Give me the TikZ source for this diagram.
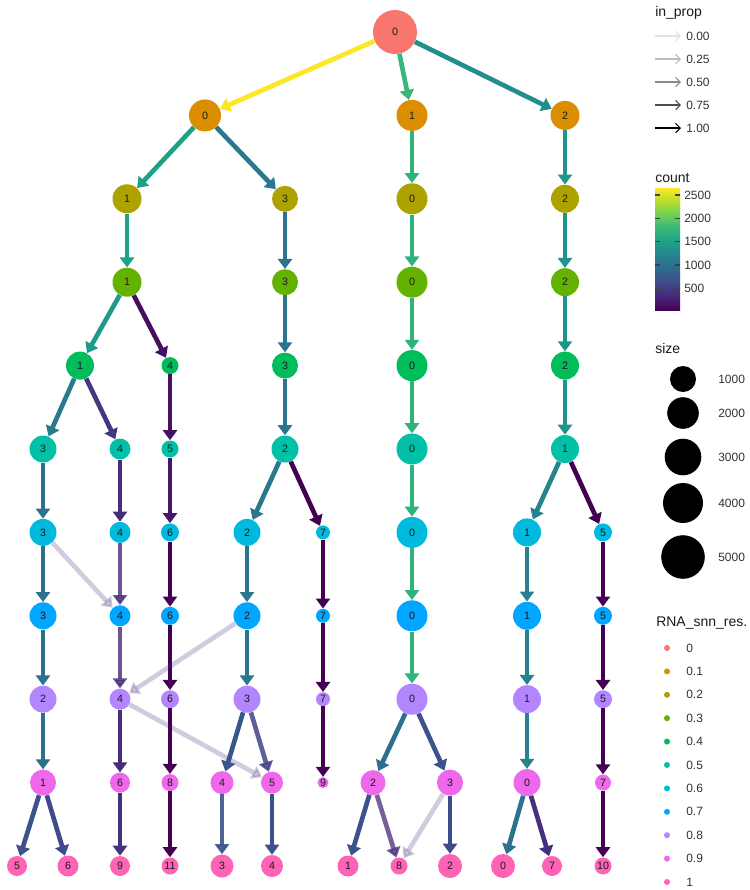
\documentclass[tikz,border=0pt]{standalone}
\usepackage{fontspec}
\setmainfont{Liberation Sans}
\usetikzlibrary{arrows.meta}
\definecolor{c0}{HTML}{F8766D}
\definecolor{c1}{HTML}{DB8E00}
\definecolor{c2}{HTML}{AEA200}
\definecolor{c3}{HTML}{64B200}
\definecolor{c4}{HTML}{00BD5C}
\definecolor{c5}{HTML}{00C1A7}
\definecolor{c6}{HTML}{00BADE}
\definecolor{c7}{HTML}{00A6FF}
\definecolor{c8}{HTML}{B385FF}
\definecolor{c9}{HTML}{EF67EB}
\definecolor{c10}{HTML}{FF63B6}
\definecolor{v0}{HTML}{440154}
\definecolor{v1}{HTML}{482878}
\definecolor{v2}{HTML}{3E4A89}
\definecolor{v3}{HTML}{31688E}
\definecolor{v4}{HTML}{26828E}
\definecolor{v5}{HTML}{1F9E89}
\definecolor{v6}{HTML}{35B779}
\definecolor{v7}{HTML}{6DCD59}
\definecolor{v8}{HTML}{B4DE2C}
\definecolor{v9}{HTML}{FDE725}
\definecolor{ttlc}{HTML}{1A1A1A}
\definecolor{labc}{HTML}{333333}
\pgfdeclareverticalshading{viridis}{100bp}{color(0bp)=(v0); color(25bp)=(v0); color(30.556bp)=(v1); color(36.111bp)=(v2); color(41.667bp)=(v3); color(47.222bp)=(v4); color(52.778bp)=(v5); color(58.333bp)=(v6); color(63.889bp)=(v7); color(69.444bp)=(v8); color(75bp)=(v9); color(100bp)=(v9)}
\newcommand\ND[6]{\node[nd,fill=#5,minimum size=#4*1.5pt] (#1) at (#2,{32+83.4*#3}) {#6};}
\newcommand\ED[4]{\definecolor{tmpc}{HTML}{#3}\draw[ed,draw=tmpc,opacity=#4] (#1) -- (#2);}
\begin{document}
\begin{tikzpicture}[x=0.75pt,y=-0.75pt,
  nd/.style={circle,inner sep=0pt,draw=none,font=\fontsize{8}{9}\selectfont,text=ttlc},
  ed/.style={line width=3.5pt,-{Triangle[length=7.5pt,width=10.5pt]}},
  ttl/.style={anchor=west,inner sep=0pt,font=\fontsize{10.5}{12}\selectfont,text=ttlc},
  lab/.style={anchor=west,inner sep=0pt,font=\fontsize{9}{10}\selectfont,text=labc},
  legarrow/.style={line width=0.8pt,-{Straight Barb[length=3.5pt,width=7pt]}}]
\fill[white] (0,0) rectangle (750,890);
\useasboundingbox (0,0) rectangle (750,890);
% nodes
\ND{n0_0}{395}{0}{22}{c0}{0}
\ND{n1_0}{205}{1}{16}{c1}{0}
\ND{n1_1}{412}{1}{15.5}{c1}{1}
\ND{n1_2}{565}{1}{14.5}{c1}{2}
\ND{n2_1}{127}{2}{14.5}{c2}{1}
\ND{n2_3}{285}{2}{13}{c2}{3}
\ND{n2_0}{412}{2}{15.5}{c2}{0}
\ND{n2_2}{565}{2}{14}{c2}{2}
\ND{n3_1}{127}{3}{14.5}{c3}{1}
\ND{n3_3}{285}{3}{13}{c3}{3}
\ND{n3_0}{412}{3}{15.5}{c3}{0}
\ND{n3_2}{565}{3}{14}{c3}{2}
\ND{n4_1}{80}{4}{14}{c4}{1}
\ND{n4_4}{170}{4}{8.5}{c4}{4}
\ND{n4_3}{285}{4}{13}{c4}{3}
\ND{n4_0}{412}{4}{15.5}{c4}{0}
\ND{n4_2}{565}{4}{14}{c4}{2}
\ND{n5_3}{43}{5}{13.5}{c5}{3}
\ND{n5_4}{120}{5}{10.5}{c5}{4}
\ND{n5_5}{170}{5}{8.5}{c5}{5}
\ND{n5_2}{285}{5}{13.5}{c5}{2}
\ND{n5_0}{412}{5}{15.5}{c5}{0}
\ND{n5_1}{565}{5}{14}{c5}{1}
\ND{n6_3}{43}{6}{13.5}{c6}{3}
\ND{n6_4}{120}{6}{10.5}{c6}{4}
\ND{n6_6}{170}{6}{9}{c6}{6}
\ND{n6_2}{247}{6}{13.5}{c6}{2}
\ND{n6_7}{323}{6}{7}{c6}{7}
\ND{n6_0}{412}{6}{15.5}{c6}{0}
\ND{n6_1}{527}{6}{14}{c6}{1}
\ND{n6_5}{603}{6}{9}{c6}{5}
\ND{n7_3}{43}{7}{13.5}{c7}{3}
\ND{n7_4}{120}{7}{10.5}{c7}{4}
\ND{n7_6}{170}{7}{9}{c7}{6}
\ND{n7_2}{247}{7}{13.5}{c7}{2}
\ND{n7_7}{323}{7}{7}{c7}{7}
\ND{n7_0}{412}{7}{15.5}{c7}{0}
\ND{n7_1}{527}{7}{14}{c7}{1}
\ND{n7_5}{603}{7}{9}{c7}{5}
\ND{n8_2}{43}{8}{13.5}{c8}{2}
\ND{n8_4}{120}{8}{10.5}{c8}{4}
\ND{n8_6}{170}{8}{9}{c8}{6}
\ND{n8_3}{247}{8}{13.5}{c8}{3}
\ND{n8_7}{323}{8}{7}{c8}{7}
\ND{n8_0}{412}{8}{15.5}{c8}{0}
\ND{n8_1}{527}{8}{14}{c8}{1}
\ND{n8_5}{603}{8}{9}{c8}{5}
\ND{n9_1}{43}{9}{13}{c9}{1}
\ND{n9_6}{120}{9}{10}{c9}{6}
\ND{n9_8}{170}{9}{8.5}{c9}{8}
\ND{n9_4}{222}{9}{11.5}{c9}{4}
\ND{n9_5}{272}{9}{11}{c9}{5}
\ND{n9_9}{323}{9}{5.5}{c9}{9}
\ND{n9_2}{373}{9}{12.5}{c9}{2}
\ND{n9_3}{450}{9}{13}{c9}{3}
\ND{n9_0}{527}{9}{13.5}{c9}{0}
\ND{n9_7}{603}{9}{8}{c9}{7}
\ND{n10_5}{17}{10}{10}{c10}{5}
\ND{n10_6}{68}{10}{10.5}{c10}{6}
\ND{n10_9}{120}{10}{10}{c10}{9}
\ND{n10_11}{170}{10}{8.5}{c10}{11}
\ND{n10_3}{222}{10}{11.5}{c10}{3}
\ND{n10_4}{272}{10}{11}{c10}{4}
\ND{n10_1}{348}{10}{10.5}{c10}{1}
\ND{n10_8}{399}{10}{8.5}{c10}{8}
\ND{n10_2}{450}{10}{12}{c10}{2}
\ND{n10_0}{503}{10}{12}{c10}{0}
\ND{n10_7}{552}{10}{10}{c10}{7}
\ND{n10_10}{603}{10}{8.5}{c10}{10}
% edges
\ED{n0_0}{n1_0}{FDE725}{1}
\ED{n0_0}{n1_1}{37B878}{1}
\ED{n0_0}{n1_2}{21908C}{1}
\ED{n1_0}{n2_1}{1FA187}{1}
\ED{n1_0}{n2_3}{2A788E}{1}
\ED{n1_1}{n2_0}{2EB37C}{1}
\ED{n1_2}{n2_2}{1F968B}{1}
\ED{n2_1}{n3_1}{1FA187}{1}
\ED{n2_3}{n3_3}{2C738E}{1}
\ED{n2_0}{n3_0}{2EB37C}{1}
\ED{n2_2}{n3_2}{1F968B}{1}
\ED{n3_1}{n4_1}{1F9A8A}{1}
\ED{n3_1}{n4_4}{470D60}{1}
\ED{n3_3}{n4_3}{2C738E}{1}
\ED{n3_0}{n4_0}{2EB37C}{1}
\ED{n3_2}{n4_2}{1F968B}{1}
\ED{n4_1}{n5_3}{297A8E}{1}
\ED{n4_1}{n5_4}{453781}{1}
\ED{n4_4}{n5_5}{471063}{1}
\ED{n4_3}{n5_2}{2C738E}{1}
\ED{n4_0}{n5_0}{2EB37C}{1}
\ED{n4_2}{n5_1}{1F968B}{1}
\ED{n5_3}{n6_3}{2C728E}{1}
\ED{n5_4}{n6_4}{472C7A}{1}
\ED{n5_5}{n6_6}{481668}{1}
\ED{n5_2}{n6_2}{2A778E}{1}
\ED{n5_2}{n6_7}{440154}{1}
\ED{n5_0}{n6_0}{2EB37C}{1}
\ED{n5_1}{n6_1}{26828E}{1}
\ED{n5_1}{n6_5}{440154}{1}
\ED{n6_3}{n7_3}{2C728E}{1}
\ED{n6_3}{n7_4}{46337E}{0.25}
\ED{n6_4}{n7_4}{472C7A}{0.8}
\ED{n6_6}{n7_6}{440154}{1}
\ED{n6_2}{n7_2}{2A778E}{1}
\ED{n6_7}{n7_7}{440154}{1}
\ED{n6_0}{n7_0}{2EB37C}{1}
\ED{n6_1}{n7_1}{26828E}{1}
\ED{n6_5}{n7_5}{440154}{1}
\ED{n7_3}{n8_2}{2C728E}{1}
\ED{n7_4}{n8_4}{472C7A}{0.8}
\ED{n7_6}{n8_6}{440154}{1}
\ED{n7_2}{n8_3}{2A778E}{1}
\ED{n7_2}{n8_4}{46337E}{0.25}
\ED{n7_7}{n8_7}{440154}{1}
\ED{n7_0}{n8_0}{2EB37C}{1}
\ED{n7_1}{n8_1}{26828E}{1}
\ED{n7_5}{n8_5}{440154}{1}
\ED{n8_2}{n9_1}{2C728E}{1}
\ED{n8_4}{n9_6}{472C7A}{1}
\ED{n8_4}{n9_5}{46337E}{0.25}
\ED{n8_6}{n9_8}{440154}{1}
\ED{n8_3}{n9_4}{39568C}{1}
\ED{n8_3}{n9_5}{414487}{0.85}
\ED{n8_7}{n9_9}{440154}{1}
\ED{n8_0}{n9_2}{2D708E}{1}
\ED{n8_0}{n9_3}{3B528B}{1}
\ED{n8_1}{n9_0}{26828E}{1}
\ED{n8_5}{n9_7}{440154}{1}
\ED{n9_1}{n10_5}{3B528B}{1}
\ED{n9_1}{n10_6}{3E4A89}{1}
\ED{n9_6}{n10_9}{46337E}{1}
\ED{n9_8}{n10_11}{440154}{1}
\ED{n9_4}{n10_3}{3B528B}{0.9}
\ED{n9_5}{n10_4}{3B528B}{1}
\ED{n9_2}{n10_1}{3B528B}{1}
\ED{n9_2}{n10_8}{472C7A}{0.75}
\ED{n9_3}{n10_8}{46337E}{0.25}
\ED{n9_3}{n10_2}{3E4C8A}{1}
\ED{n9_0}{n10_0}{2C728E}{1}
\ED{n9_0}{n10_7}{46307D}{1}
\ED{n9_7}{n10_10}{440154}{1}
% legend: in_prop
\node[ttl] (tin) at (655,13) {in\_prop};
\foreach \y/\c/\t in {36/E3E3E3/0.00, 59/BBBBBB/0.25, 82/8A8A8A/0.50, 105/4D4D4D/0.75, 128/000000/1.00}{
  \definecolor{tmpl}{HTML}{\c}
  \draw[legarrow,draw=tmpl] (655,\y) -- (681,\y);
  \node[lab] at (686,\y) {\t};
}
% legend: count
\node[ttl] (tcount) at (655,178) {count};
\shade[shading=viridis] (655,188) rectangle (680,310);
\foreach \y/\t in {195/2500, 218.3/2000, 241.6/1500, 264.9/1000, 288.2/500}{
  \draw[line width=1pt,black!75] (655,\y) -- (660,\y) (675,\y) -- (680,\y);
  \node[lab] at (684,\y) {\t};
}
% legend: size
\node[ttl] (tsize) at (655,348) {size};
\foreach \y/\r/\t in {379/13/1000, 413/15.8/2000, 457/18.3/3000, 503/20/4000, 557/21.8/5000}{
  \fill[black] (683,\y) circle[radius=\r];
  \node[lab] at (718,\y) {\t};
}
% legend: RNA_snn_res.
\node[ttl] (tres) at (656,623) {RNA\_snn\_res.};
\foreach \i/\t in {0/0, 1/0.1, 2/0.2, 3/0.3, 4/0.4, 5/0.5, 6/0.6, 7/0.7, 8/0.8, 9/0.9, 10/1}{
  \fill[c\i] (667,{648+23.4*\i}) circle[radius=3];
  \node[lab] at (686,{648+23.4*\i}) {\t};
}
\end{tikzpicture}
\end{document}
